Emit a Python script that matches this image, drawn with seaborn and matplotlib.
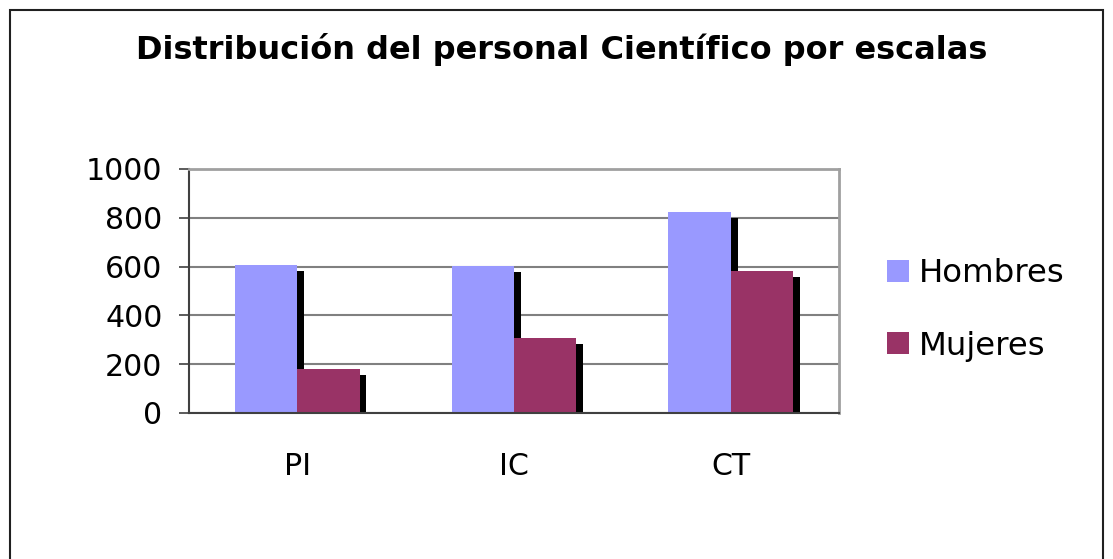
import matplotlib
matplotlib.use("Agg")
import matplotlib.pyplot as plt
import matplotlib.patheffects as pe
from matplotlib.patches import Rectangle, Patch
import seaborn as sns
import pandas as pd

categories = ["PI", "IC", "CT"]
hombres = [607, 602, 823]
mujeres = [182, 306, 582]
series_names = ["Hombres", "Mujeres"]
colors = ["#9999FF", "#993366"]
yticks = [0, 200, 400, 600, 800, 1000]

df = pd.DataFrame({
    "cat": categories * 2,
    "val": hombres + mujeres,
    "serie": [series_names[0]] * 3 + [series_names[1]] * 3,
})

sns.set_style("white")
plt.rcParams["font.family"] = ["DejaVu Sans"]
plt.rcParams["text.color"] = "black"
plt.rcParams["xtick.color"] = "black"
plt.rcParams["ytick.color"] = "black"

fig = plt.figure(figsize=(11.13, 5.59), dpi=100)
ax = fig.add_axes([189 / 1113, 1 - 413 / 559, 650 / 1113, 244 / 559])

sns.barplot(data=df, x="cat", y="val", hue="serie", palette=colors,
            width=0.574, saturation=1, ax=ax, legend=False, linewidth=0, edgecolor="none")

for p in ax.patches:
    p.set_path_effects([pe.SimplePatchShadow(offset=(5.0, -4.3), shadow_rgbFace="black", alpha=1.0),
                        pe.Normal()])

ax.set_ylim(0, 1000)
ax.set_xlim(-0.5, 2.5)
ax.set_yticks(yticks)
ax.set_yticklabels([str(v) for v in yticks], fontsize=21.6, color="black")
ax.set_xticks(range(len(categories)))
ax.set_xticklabels(categories, fontsize=21.6, color="black")
ax.set_xticks([-0.5, 0.5, 1.5, 2.5], minor=True)
ax.tick_params(axis="x", which="major", length=0, pad=28)
ax.tick_params(axis="x", which="minor", length=9, width=1.2, color="#404040", direction="out")
ax.tick_params(axis="y", which="major", length=7, width=1.2, color="#404040", direction="out", left=True, pad=12)
ax.set_xlabel("")
ax.set_ylabel("")

ax.grid(axis="y", color="#808080", linewidth=1.5)
ax.set_axisbelow(True)
for side in ["left", "bottom"]:
    ax.spines[side].set_color("#404040")
    ax.spines[side].set_linewidth(1.5)
for side in ["right", "top"]:
    ax.spines[side].set_color("#a0a0a0")
    ax.spines[side].set_linewidth(2)

handles = [Patch(facecolor=c, edgecolor="none") for c in colors]
fig.legend(handles, series_names, loc="center left", bbox_to_anchor=(887 / 1113, 1 - 310 / 559),
           frameon=False, fontsize=23.3, handlelength=0.68, handleheight=0.68,
           handletextpad=0.3, labelspacing=1.27, borderpad=0, borderaxespad=0)

fig.text(561.5 / 1113, 1 - 50 / 559, "Distribución del personal Científico por escalas",
         ha="center", va="center", fontsize=23, fontweight="bold", color="black",
         family=["DejaVu Sans"])

fig.patches.append(Rectangle((10 / 1113, -0.1), 1093 / 1113, 0.1 + 1 - 10 / 559,
                             transform=fig.transFigure, fill=False, edgecolor="#202020",
                             linewidth=1.5))

fig.savefig("out.png", dpi=100)
